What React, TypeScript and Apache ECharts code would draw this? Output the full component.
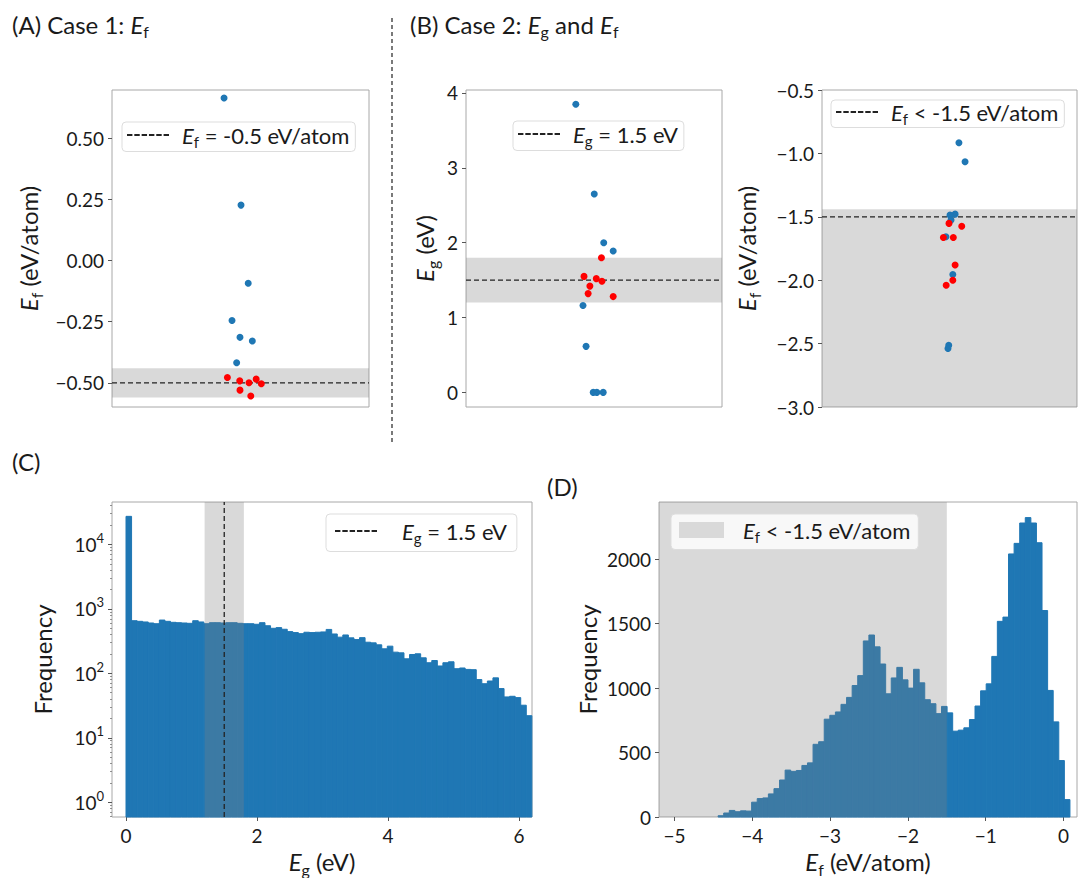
import React, { useEffect, useRef } from "react";
import * as echarts from "echarts";

// ---------- DATA ----------
// Panel A: formation energy (eV/atom), strip-plot points [jitter, value]
const aBlue = [[-0.064, 0.665], [0.002, 0.227], [0.030, -0.093], [-0.033, -0.245], [-0.002, -0.314], [0.046, -0.329], [-0.015, -0.418]];
const aRed = [[-0.051, -0.478], [-0.003, -0.492], [0.033, -0.500], [0.061, -0.485], [0.081, -0.504], [-0.002, -0.530], [0.040, -0.554]];
const aTarget = -0.5;
const aBand = [-0.56, -0.44];
const aTicks = [-0.5, -0.25, 0, 0.25, 0.5];

// Panel B left: band gap (eV)
const bgBlue = [[-0.071, 3.85], [0.001, 2.65], [0.038, 2.0], [0.075, 1.89], [-0.043, 1.16], [-0.031, 0.615], [-0.003, 0], [0.011, 0], [0.036, 0]];
const bgRed = [[0.029, 1.80], [-0.039, 1.55], [0.009, 1.52], [0.031, 1.485], [-0.016, 1.42], [-0.023, 1.32], [0.075, 1.28]];
const bgTarget = 1.5;
const bgBand = [1.2, 1.8];
const bgTicks = [0, 1, 2, 3, 4];

// Panel B right: formation energy (eV/atom)
const bfBlue = [[0.037, -0.916], [0.061, -1.066], [0.022, -1.479], [0.002, -1.487], [0.006, -1.526], [-0.014, -1.658], [0.013, -1.955], [-0.003, -2.513], [-0.006, -2.539]];
const bfRed = [[-0.002, -1.552], [0.048, -1.574], [-0.024, -1.663], [0.015, -1.663], [0.022, -1.88], [0.013, -2.0], [-0.013, -2.04]];
const bfTarget = -1.5;
const bfBand = [-3, -1.44];
const bfTicks = [-3.0, -2.5, -2.0, -1.5, -1.0, -0.5];

// Panel C: histogram of band gap (log frequency)
const cBinStart = 0;
const cBinWidth = 0.0849;
const cCounts = [27300, 656, 641, 627, 604, 589, 671, 641, 619, 611, 604, 597, 656, 627, 589, 611, 611, 604, 611, 611, 597, 589, 589, 577, 611, 548, 500, 512, 483, 444, 429, 413, 434, 429, 434, 439, 480, 408, 364, 394, 355, 334, 358, 304, 297, 277, 240, 264, 213, 208, 168, 196, 201, 174, 146, 158, 130, 146, 151, 118, 121, 115, 114, 80, 69, 76, 85, 58, 43, 44, 42, 32, 22];
const cTarget = 1.5;
const cBand = [1.2, 1.8];
const cXTicks = [0, 2, 4, 6];
const cYTicks = [1, 10, 100, 1000, 10000];

// Panel D: histogram of formation energy
const dBinStart = -4.44;
const dBinWidth = 0.0718;
const dCounts = [10, 31, 51, 41, 48, 46, 115, 143, 148, 179, 220, 287, 364, 354, 361, 400, 420, 564, 584, 759, 789, 815, 874, 928, 1020, 1097, 1366, 1412, 1320, 1187, 956, 1079, 1161, 1064, 1000, 1146, 1041, 910, 879, 802, 858, 808, 666, 674, 692, 756, 861, 979, 1033, 1246, 1518, 1551, 2041, 2123, 2281, 2323, 2281, 2128, 1602, 982, 738, 438, 135];
const dBand = [-5.2, -1.5];
const dXTicks = [-5, -4, -3, -2, -1, 0];
const dYTicks = [0, 500, 1000, 1500, 2000];

// ---------- STYLE ----------
const FONT = 'Lato, "Noto Sans", "DejaVu Sans", sans-serif';
const BLUE = "#1f77b4";
const RED = "#ff0000";
const SHADE = "rgba(128,128,128,0.3)";
const PATCH = "#d9d9d9";
const SPINE = "#a8a8a8";
const TXT = "#1a1a1a";
const DASH_ICON = "path://M0,0h5.4v2h-5.4z M7.3,0h5.4v2h-5.4z M14.6,0h5.4v2h-5.4z M21.9,0h5.4v2h-5.4z M29.2,0h5.4v2h-5.4z M36.5,0h5.4v2h-5.4z";

function makeRich(size: number) {
  const lh = Math.round(size * 1.3);
  const ss = Math.round(size * 0.66);
  return {
    n: { fontFamily: FONT, fontSize: size, color: TXT, lineHeight: lh },
    i: { fontFamily: FONT, fontSize: size, color: TXT, fontStyle: "italic", lineHeight: lh },
    s: { fontFamily: FONT, fontSize: ss, color: TXT, verticalAlign: "bottom", lineHeight: ss },
  };
}
const richName = makeRich(24);
const richTitle = makeRich(24);
const richLegend = makeRich(22);
const richTick = {
  b: { fontFamily: FONT, fontSize: 19, color: TXT, lineHeight: 26 },
  p: { fontFamily: FONT, fontSize: 13, color: TXT, verticalAlign: "top", lineHeight: 13 },
};

const minus = (s: string) => s.replace("-", "\u2212");

function edges(start: number, width: number, counts: number[]) {
  return counts.map((c, k) => [start + k * width, start + (k + 1) * width, c]);
}

function histSeries(xi: number, base: number, data: number[][]) {
  return {
    type: "custom",
    xAxisIndex: xi,
    yAxisIndex: xi,
    z: 2,
    silent: true,
    encode: { x: [0, 1], y: 2 },
    data,
    renderItem: (params: any, api: any) => {
      const p0 = api.coord([api.value(0), api.value(2)]);
      const p1 = api.coord([api.value(1), base]);
      return {
        type: "rect",
        shape: { x: p0[0], y: p0[1], width: p1[0] - p0[0], height: p1[1] - p0[1] },
        style: { fill: BLUE, stroke: BLUE, lineWidth: 1 },
      };
    },
  };
}

function bandXSeries(xi: number, yRef: number, band: number[]) {
  return {
    type: "custom",
    xAxisIndex: xi,
    yAxisIndex: xi,
    z: 5,
    silent: true,
    encode: { x: [0, 1] },
    data: [[band[0], band[1]]],
    renderItem: (params: any, api: any) => {
      const cs = params.coordSys;
      const a = api.coord([api.value(0), yRef]);
      const b = api.coord([api.value(1), yRef]);
      return {
        type: "rect",
        shape: { x: a[0], y: cs.y, width: b[0] - a[0], height: cs.height },
        style: { fill: SHADE },
      };
    },
  };
}

const tickLabel = (fmt: (v: number) => string, custom?: number[], margin = 8) => ({
  show: true,
  fontFamily: FONT,
  fontSize: 19,
  color: TXT,
  margin,
  formatter: fmt,
  ...(custom ? { customValues: custom } : {}),
});

const tick = (custom?: number[]) => ({
  show: true,
  inside: false,
  length: 4,
  lineStyle: { color: "#555", width: 1 },
  ...(custom ? { customValues: custom } : {}),
});

const noLine = { show: false, onZero: false };

function stripX(grid: number) {
  return {
    type: "value",
    gridIndex: grid,
    min: -0.5,
    max: 0.5,
    axisLine: noLine,
    axisTick: { show: false },
    axisLabel: { show: false },
    splitLine: { show: false },
  };
}

function strip(xi: number, data: number[][], color: string) {
  return {
    type: "scatter",
    xAxisIndex: xi,
    yAxisIndex: xi,
    data,
    symbolSize: 7,
    itemStyle: { color, opacity: 1 },
    z: 4,
    silent: true,
  };
}

function dashedH(xi: number, name: string, y: number) {
  return {
    type: "line",
    name,
    xAxisIndex: xi,
    yAxisIndex: xi,
    data: [[-0.5, y], [0.5, y]],
    symbol: "none",
    lineStyle: { color: "#222", width: 1.3, type: [5, 3] },
    itemStyle: { color: "#222" },
    z: 3,
    silent: true,
  };
}

function bandY(xi: number, band: number[]) {
  return {
    type: "line",
    xAxisIndex: xi,
    yAxisIndex: xi,
    data: [],
    z: 1,
    silent: true,
    markArea: {
      silent: true,
      itemStyle: { color: SHADE },
      data: [[{ yAxis: band[0] }, { yAxis: band[1] }]],
    },
  };
}

function legend(name: string, left: number, top: number, label: string, extra: any = {}) {
  return {
    data: [{ name, icon: DASH_ICON }],
    left,
    top,
    z: 20,
    orient: "horizontal",
    itemWidth: 42,
    itemHeight: 2,
    symbolKeepAspect: false,
    padding: [2, 6, 2, 5],
    backgroundColor: "rgba(255,255,255,0.8)",
    borderColor: "#dddddd",
    borderWidth: 1,
    borderRadius: 4,
    selectedMode: false,
    formatter: () => label,
    textStyle: { rich: richLegend, padding: [0, 0, 0, 8] },
    ...extra,
  };
}

function buildOption() {
  const grids = [
    { left: 112, top: 90, width: 257, height: 317 },
    { left: 466, top: 90, width: 256, height: 317 },
    { left: 822, top: 90, width: 255, height: 317 },
    { left: 112, top: 502, width: 420, height: 317 },
    { left: 659, top: 502, width: 418, height: 317 },
  ].map((g) => ({ ...g, show: true, borderColor: SPINE, borderWidth: 1, backgroundColor: "transparent", containLabel: false }));

  const yName = (name: string, gap: number) => ({
    name,
    nameLocation: "middle",
    nameRotate: 90,
    nameGap: gap,
    nameTextStyle: { rich: richName, fontFamily: FONT, fontSize: 24, color: TXT },
  });
  const xName = (name: string, gap: number) => ({
    name,
    nameLocation: "middle",
    nameGap: gap,
    nameTextStyle: { rich: richName, fontFamily: FONT, fontSize: 24, color: TXT },
  });

  const xAxis = [
    stripX(0),
    stripX(1),
    stripX(2),
    {
      type: "value",
      gridIndex: 3,
      min: -0.214,
      max: 6.2,
      axisLine: noLine,
      splitLine: { show: false },
      axisTick: tick(cXTicks),
      axisLabel: tickLabel((v) => minus(String(v)), cXTicks, 9),
      ...xName("{i|E}{s|g}{n| (eV)}", 29),
    },
    {
      type: "value",
      gridIndex: 4,
      min: dBand[0],
      max: 0.174,
      axisLine: noLine,
      splitLine: { show: false },
      axisTick: tick(dXTicks),
      axisLabel: tickLabel((v) => minus(String(v)), dXTicks, 9),
      ...xName("{i|E}{s|f}{n| (eV/atom)}", 29),
    },
  ];

  const yAxis: any[] = [
    {
      type: "value",
      gridIndex: 0,
      min: -0.599,
      max: 0.698,
      axisLine: noLine,
      splitLine: { show: false },
      axisTick: tick(aTicks),
      axisLabel: tickLabel((v) => minus(v.toFixed(2)), aTicks),
      ...yName("{i|E}{s|f}{n| (eV/atom)}", 68),
    },
    {
      type: "value",
      gridIndex: 1,
      min: -0.195,
      max: 4.04,
      axisLine: noLine,
      splitLine: { show: false },
      axisTick: tick(bgTicks),
      axisLabel: tickLabel((v) => String(v), bgTicks),
      ...yName("{i|E}{s|g}{n| (eV)}", 26),
    },
    {
      type: "value",
      gridIndex: 2,
      min: -3,
      max: -0.5,
      axisLine: noLine,
      splitLine: { show: false },
      axisTick: tick(bfTicks),
      axisLabel: tickLabel((v) => minus(v.toFixed(1)), bfTicks),
      ...yName("{i|E}{s|f}{n| (eV/atom)}", 60),
    },
    {
      type: "log",
      logBase: 10,
      gridIndex: 3,
      min: 0.589,
      max: 45600,
      axisLine: noLine,
      splitLine: { show: false },
      axisTick: tick(cYTicks),
      axisLabel: {
        ...tickLabel((v) => `{b|10}{p|${Math.round(Math.log10(v))}}`, cYTicks),
        rich: richTick,
      },
      ...yName("{n|Frequency}", 54),
    },
    {
      type: "value",
      gridIndex: 4,
      min: 0,
      max: 2444,
      axisLine: noLine,
      splitLine: { show: false },
      axisTick: tick(dYTicks),
      axisLabel: tickLabel((v) => String(v), dYTicks),
      ...yName("{n|Frequency}", 56),
    },
  ];

  // minor log ticks for panel C
  const minor: number[] = [];
  for (let e = -1; e <= 4; e++) for (let m = 2; m <= 9; m++) {
    const v = m * Math.pow(10, e);
    if (v > 0.589 && v < 45600) minor.push(v);
  }
  yAxis.push({
    type: "log",
    logBase: 10,
    gridIndex: 3,
    position: "left",
    min: 0.589,
    max: 45600,
    axisLine: noLine,
    splitLine: { show: false },
    axisTick: { show: true, inside: false, length: 2, lineStyle: { color: "#777", width: 0.8 }, customValues: minor },
    axisLabel: { show: false },
  });

  const series: any[] = [
    // A
    bandY(0, aBand),
    dashedH(0, "legA", aTarget),
    strip(0, aBlue, BLUE),
    strip(0, aRed, RED),
    // B left
    bandY(1, bgBand),
    dashedH(1, "legBl", bgTarget),
    strip(1, bgBlue, BLUE),
    strip(1, bgRed, RED),
    // B right
    bandY(2, bfBand),
    dashedH(2, "legBr", bfTarget),
    strip(2, bfBlue, BLUE),
    strip(2, bfRed, RED),
    // C
    histSeries(3, 0.589, edges(cBinStart, cBinWidth, cCounts)),
    bandXSeries(3, 10, cBand),
    {
      type: "line",
      name: "legC",
      xAxisIndex: 3,
      yAxisIndex: 3,
      data: [[cTarget, 0.589], [cTarget, 45600]],
      symbol: "none",
      lineStyle: { color: "#222", width: 1.3, type: [5, 3] },
      itemStyle: { color: "#222" },
      z: 6,
      silent: true,
    },
    // D
    histSeries(4, 0, edges(dBinStart, dBinWidth, dCounts)),
    { ...bandXSeries(4, 1000, dBand), name: "legD", itemStyle: { color: PATCH, opacity: 1 } },
  ];

  const legends = [
    legend("legA", 122, 122, "{i|E}{s|f}{n| = -0.5 eV/atom}"),
    legend("legBl", 513, 121, "{i|E}{s|g}{n| = 1.5 eV}"),
    legend("legBr", 831, 100, "{i|E}{s|f}{n| < -1.5 eV/atom}", { padding: [1, 6, 1, 5] }),
    legend("legC", 326, 514, "{i|E}{s|g}{n| = 1.5 eV}", {
      padding: [6, 10, 6, 9],
      textStyle: { rich: richLegend, padding: [0, 0, 0, 20] },
    }),
    legend("legD", 671, 514, "{i|E}{s|f}{n| < -1.5 eV/atom}", {
      padding: [5, 8, 5, 8],
      itemWidth: 45,
      itemHeight: 16,
      symbolKeepAspect: false,
      itemStyle: { color: PATCH, opacity: 1, borderWidth: 0 },
      data: [{ name: "legD", icon: "rect", itemStyle: { color: PATCH, opacity: 1, borderWidth: 0 } }],
      textStyle: { rich: richLegend, padding: [0, 0, 0, 14] },
    }),
  ];

  const titleText = (x: number, y: number, text: string) => ({
    type: "text",
    left: x,
    top: y,
    silent: true,
    style: { text, rich: richTitle, fill: TXT, font: `24px ${FONT}` },
  });

  const graphic = [
    titleText(12, 12, "{n|(A) Case 1: }{i|E}{s|f}"),
    titleText(410, 12, "{n|(B) Case 2: }{i|E}{s|g}{n| and }{i|E}{s|f}"),
    titleText(12, 449, "{n|(C)}"),
    titleText(547, 474, "{n|(D)}"),
    {
      type: "line",
      silent: true,
      shape: { x1: 392, y1: 18, x2: 392, y2: 443 },
      style: { stroke: "#222", lineWidth: 1.2, lineDash: [4, 3] },
    },
  ];

  return {
    animation: false,
    backgroundColor: "#ffffff",
    textStyle: { fontFamily: FONT },
    grid: grids,
    xAxis,
    yAxis,
    series,
    legend: legends,
    graphic,
  };
}

export default function App() {
  const ref = useRef<HTMLDivElement>(null);
  useEffect(() => {
    if (!ref.current) return;
    const chart = echarts.init(ref.current, null, { renderer: "svg" });
    chart.setOption(buildOption() as any);
    return () => chart.dispose();
  }, []);
  return (
    <div
      ref={ref}
      style={{ position: "absolute", left: 0, top: 0, width: 1078, height: 878, background: "#fff" }}
    />
  );
}
